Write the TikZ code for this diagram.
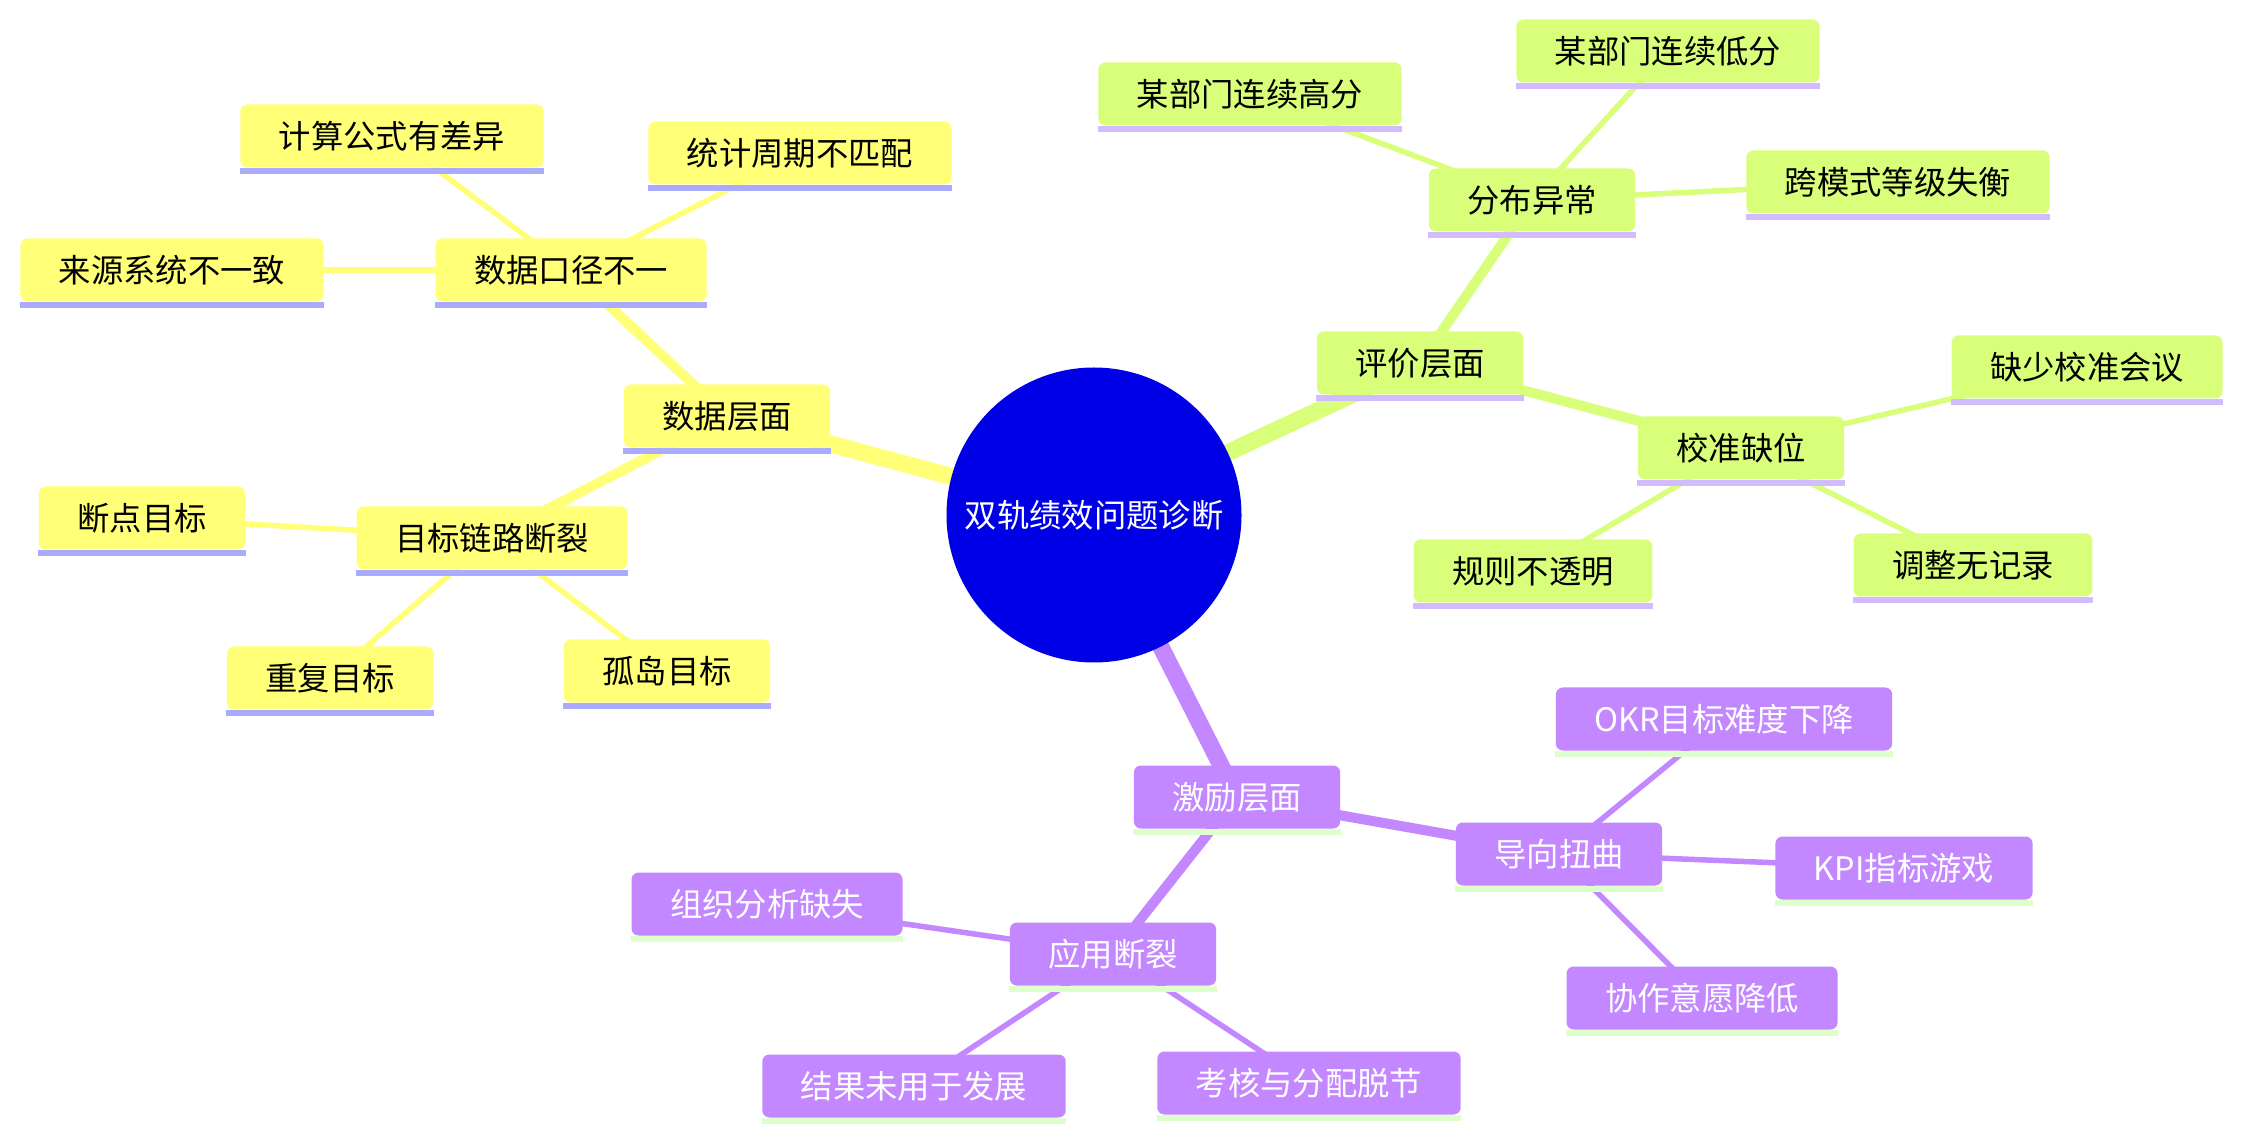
\documentclass[tikz,border=0pt]{standalone}
\usepackage{fontspec}
\setmainfont{Noto Sans CJK SC}
\usepackage{tikz}
\usepackage{xcolor}
\usetikzlibrary{backgrounds}

\definecolor{rootblue}{HTML}{0000E6}
\definecolor{dataY}{HTML}{FFFF78}
\definecolor{dataUL}{HTML}{AAAAFF}
\definecolor{evalG}{HTML}{D9FF7A}
\definecolor{evalUL}{HTML}{D2BBFF}
\definecolor{incP}{HTML}{C387FF}
\definecolor{incUL}{HTML}{DDFFCC}

\begin{document}
\begin{tikzpicture}[
    box/.style={rounded corners=0.07cm, inner xsep=0.385cm, inner ysep=0pt, minimum height=0.63cm, font=\fontsize{9.2}{11}\selectfont},
    databox/.style={box, fill=dataY, text=black},
    evalbox/.style={box, fill=evalG, text=black},
    incbox/.style={box, fill=incP, text=white},
    lvlone/.style={line width=0.17cm},
    lvltwo/.style={line width=0.10cm},
    lvlthree/.style={line width=0.055cm}
]
    \useasboundingbox (0,0) rectangle (22.43,-11.41);

    % Root
    \node[circle, fill=rootblue, text=white, minimum size=2.95cm, inner sep=0pt, font=\fontsize{9.2}{11}\selectfont] (root) at (10.94,-5.15) {双轨绩效问题诊断};

    % Data branch
    \node[databox] (data) at (7.27,-4.16) {数据层面};
    \node[databox] (dataCaliber) at (5.71,-2.70) {数据口径不一};
    \node[databox] (calcFormula) at (3.92,-1.36) {计算公式有差异};
    \node[databox] (statPeriod) at (8.00,-1.53) {统计周期不匹配};
    \node[databox] (sourceSys) at (1.72,-2.70) {来源系统不一致};
    \node[databox] (goalChain) at (4.92,-5.38) {目标链路断裂};
    \node[databox] (breakGoal) at (1.42,-5.18) {断点目标};
    \node[databox] (dupGoal) at (3.30,-6.78) {重复目标};
    \node[databox] (islandGoal) at (6.67,-6.71) {孤岛目标};

    % Evaluation branch
    \node[evalbox] (eval) at (14.20,-3.63) {评价层面};
    \node[evalbox] (distAbn) at (15.32,-2.00) {分布异常};
    \node[evalbox] (highScore) at (12.50,-0.94) {某部门连续高分};
    \node[evalbox] (lowScore) at (16.68,-0.51) {某部门连续低分};
    \node[evalbox] (crossMode) at (18.98,-1.82) {跨模式等级失衡};
    \node[evalbox] (calib) at (17.41,-4.48) {校准缺位};
    \node[evalbox] (calibMeet) at (20.87,-3.67) {缺少校准会议};
    \node[evalbox] (rulesOpaque) at (15.33,-5.71) {规则不透明};
    \node[evalbox] (noRecord) at (19.73,-5.65) {调整无记录};

    % Incentive branch
    \node[incbox] (incent) at (12.37,-7.97) {激励层面};
    \node[incbox] (guideTwist) at (15.59,-8.54) {导向扭曲};
    \node[incbox] (okrDrop) at (17.24,-7.19) {OKR目标难度下降};
    \node[incbox] (kpiGame) at (19.04,-8.68) {KPI指标游戏};
    \node[incbox] (collabDrop) at (17.02,-9.98) {协作意愿降低};
    \node[incbox] (applyBreak) at (11.13,-9.54) {应用断裂};
    \node[incbox] (orgAnalysis) at (7.67,-9.04) {组织分析缺失};
    \node[incbox] (noDevelop) at (9.14,-10.86) {结果未用于发展};
    \node[incbox] (payGap) at (13.09,-10.83) {考核与分配脱节};

    % Underlines
    \foreach \n in {data,dataCaliber,calcFormula,statPeriod,sourceSys,goalChain,breakGoal,dupGoal,islandGoal}
        \fill[dataUL] (\n.south west) rectangle ([yshift=-0.06cm]\n.south east);
    \foreach \n in {eval,distAbn,highScore,lowScore,crossMode,calib,calibMeet,rulesOpaque,noRecord}
        \fill[evalUL] (\n.south west) rectangle ([yshift=-0.06cm]\n.south east);
    \foreach \n in {incent,guideTwist,okrDrop,kpiGame,collabDrop,applyBreak,orgAnalysis,noDevelop,payGap}
        \fill[incUL] (\n.south west) rectangle ([yshift=-0.06cm]\n.south east);

    % Edges
    \begin{pgfonlayer}{background}
        \draw[dataY, lvlone] (root.center) -- (data.center);
        \draw[dataY, lvltwo] (data.center) -- (dataCaliber.center);
        \draw[dataY, lvltwo] (data.center) -- (goalChain.center);
        \foreach \n in {calcFormula,statPeriod,sourceSys}
            \draw[dataY, lvlthree] (dataCaliber.center) -- (\n.center);
        \foreach \n in {breakGoal,dupGoal,islandGoal}
            \draw[dataY, lvlthree] (goalChain.center) -- (\n.center);

        \draw[evalG, lvlone] (root.center) -- (eval.center);
        \draw[evalG, lvltwo] (eval.center) -- (distAbn.center);
        \draw[evalG, lvltwo] (eval.center) -- (calib.center);
        \foreach \n in {highScore,lowScore,crossMode}
            \draw[evalG, lvlthree] (distAbn.center) -- (\n.center);
        \foreach \n in {calibMeet,rulesOpaque,noRecord}
            \draw[evalG, lvlthree] (calib.center) -- (\n.center);

        \draw[incP, lvlone] (root.center) -- (incent.center);
        \draw[incP, lvltwo] (incent.center) -- (guideTwist.center);
        \draw[incP, lvltwo] (incent.center) -- (applyBreak.center);
        \foreach \n in {okrDrop,kpiGame,collabDrop}
            \draw[incP, lvlthree] (guideTwist.center) -- (\n.center);
        \foreach \n in {orgAnalysis,noDevelop,payGap}
            \draw[incP, lvlthree] (applyBreak.center) -- (\n.center);
    \end{pgfonlayer}
\end{tikzpicture}
\end{document}
